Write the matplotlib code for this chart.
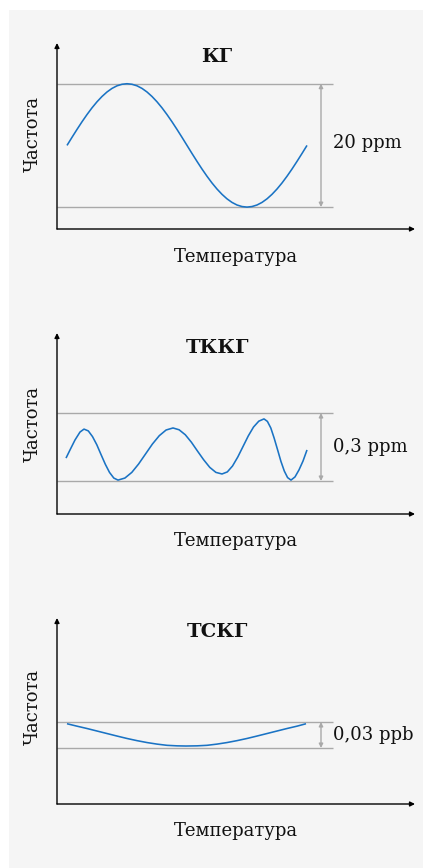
import matplotlib
matplotlib.use("Agg")
import matplotlib.pyplot as plt
from matplotlib.patches import Rectangle

# ---------------- data ----------------
titles = ["КГ", "ТККГ", "ТСКГ"]
x_label = "Температура"
y_label = "Частота"
span_labels = ["20 ppm", "0,3 ppm", "0,03 ppb"]

# КГ: frequency (ppm above lower band line) vs temperature (arbitrary units)
temp_kg = [10, 15, 20, 25, 30, 35, 40, 45, 50, 55, 60, 65, 70,
           75, 80, 85, 90, 95, 100, 105, 110, 115, 120, 125, 130,
           135, 140, 145, 150, 155, 160, 165, 170, 175, 180, 185, 190,
           195, 200, 205, 210, 215, 220, 225, 230, 235, 240, 245, 250]
freq_kg = [10, 11.31, 12.59, 13.83, 15.00, 16.09, 17.07, 17.93, 18.66, 19.24, 19.66, 19.91, 20,
           19.91, 19.66, 19.24, 18.66, 17.93, 17.07, 16.09, 15.00, 13.83, 12.59, 11.31, 10,
           8.69, 7.41, 6.17, 5.00, 3.91, 2.93, 2.07, 1.34, 0.76, 0.34, 0.09, 0,
           0.09, 0.34, 0.76, 1.34, 2.07, 2.93, 3.91, 5.00, 6.17, 7.41, 8.69, 10]
band_kg = [0, 20]

# ТККГ
temp_tkkg = [9, 13, 18, 23, 27, 31.3, 35.5, 39.8, 44, 48.3, 52.5, 56.8, 61,
             67.9, 74.8, 81.6, 88.5, 95.4, 102.3, 109.1, 116,
             122.1, 128.3, 134.4, 140.5, 146.6, 152.8, 158.9, 165,
             170.3, 175.5, 180.8, 186, 191.3, 196.5, 201.8, 207,
             210.4, 213.8, 217.1, 220.5, 223.9, 227.3, 230.6, 234,
             238, 242, 246, 250]
freq_tkkg = [0.101, 0.137, 0.181, 0.216, 0.229, 0.221, 0.196, 0.160, 0.117, 0.074, 0.038, 0.013, 0.004,
             0.013, 0.038, 0.075, 0.119, 0.163, 0.200, 0.225, 0.234,
             0.226, 0.204, 0.171, 0.132, 0.094, 0.060, 0.038, 0.031,
             0.040, 0.066, 0.106, 0.152, 0.199, 0.238, 0.264, 0.274,
             0.263, 0.234, 0.190, 0.139, 0.087, 0.044, 0.015, 0.004,
             0.018, 0.049, 0.088, 0.137]
band_tkkg = [0, 0.3]

# ТСКГ
temp_tskg = [10, 20, 30, 40, 50, 60, 70, 80, 90, 100, 110, 120, 129,
             140, 150, 160, 170, 180, 190, 200, 210, 220, 230, 240, 249]
freq_tskg = [0.0280, 0.0252, 0.0225, 0.0196, 0.0167, 0.0138, 0.0110, 0.0085, 0.0063,
             0.0045, 0.0031, 0.0025, 0.0023, 0.0025, 0.0031, 0.0045, 0.0063, 0.0085,
             0.0110, 0.0138, 0.0167, 0.0196, 0.0225, 0.0252, 0.0280]
band_tskg = [0, 0.03]

# ---------------- layout ----------------
W, H = 423, 868
fig = plt.figure(figsize=(W / 100, H / 100), dpi=100)
fig.patch.set_facecolor("white")
fig.patches.append(Rectangle((9 / W, 0), 1 - 9 / W, 1 - 10 / H,
                             transform=fig.transFigure, facecolor="#f5f5f5",
                             edgecolor="none", zorder=-10))

FONT = "DejaVu Serif"
BLUE = "#1a73c4"
GRAY = "#a9a9a9"
TXT = "#111111"

panels = [
    dict(x=temp_kg, y=freq_kg, band=band_kg, top=43, bottom=229,
         ylim=(-3.55, 26.6), title_y=57, ylab_y=134, xlab_y=257, span_y=143),
    dict(x=temp_tkkg, y=freq_tkkg, band=band_tkkg, top=333, bottom=514,
         ylim=(-0.1456, 0.653), title_y=348, ylab_y=424, xlab_y=541, span_y=447),
    dict(x=temp_tskg, y=freq_tskg, band=band_tskg, top=618, bottom=804,
         ylim=(-0.0646, 0.15), title_y=632, ylab_y=707, xlab_y=831, span_y=735),
]

left_px, right_px = 57, 415
for i, p in enumerate(panels):
    ax = fig.add_axes([left_px / W, 1 - p["bottom"] / H,
                       (right_px - left_px) / W, (p["bottom"] - p["top"]) / H])
    ax.set_zorder(5)
    ax.set_xlim(0, right_px - left_px)
    ax.set_ylim(*p["ylim"])
    ax.axis("off")

    # axes arrows
    ax.annotate("", xy=(0, 1), xytext=(0, 0), xycoords="axes fraction",
                arrowprops=dict(arrowstyle="-|>", color="black", lw=1.0,
                                mutation_scale=7, shrinkA=0, shrinkB=0))
    ax.annotate("", xy=(1, 0), xytext=(0, 0), xycoords="axes fraction",
                arrowprops=dict(arrowstyle="-|>", color="black", lw=1.0,
                                mutation_scale=7, shrinkA=0, shrinkB=0))

    lo, hi = p["band"]
    ax.hlines([lo, hi], 0, 276, color=GRAY, lw=1.0, zorder=2)
    ax.annotate("", xy=(264, hi), xytext=(264, lo), xycoords="data",
                arrowprops=dict(arrowstyle="<|-|>", color=GRAY, lw=1.0,
                                mutation_scale=6, shrinkA=0, shrinkB=0))
    ax.plot(p["x"], p["y"], color=BLUE, lw=1.15, zorder=3,
            solid_capstyle="butt", solid_joinstyle="round")

    fig.text((276 + left_px) / W, 1 - p["span_y"] / H, span_labels[i],
             ha="left", va="center", fontsize=13, family=FONT, color=TXT)
    fig.text(217 / W, 1 - p["title_y"] / H, titles[i], ha="center", va="center",
             fontsize=14, fontweight="bold", family=FONT, color=TXT)
    fig.text(33 / W, 1 - p["ylab_y"] / H, y_label, rotation=90, ha="center",
             va="center", fontsize=13, family=FONT, color=TXT)
    fig.text(236 / W, 1 - p["xlab_y"] / H, x_label, ha="center", va="center",
             fontsize=13, family=FONT, color=TXT)

fig.savefig("out.png", dpi=100, facecolor=fig.get_facecolor())
